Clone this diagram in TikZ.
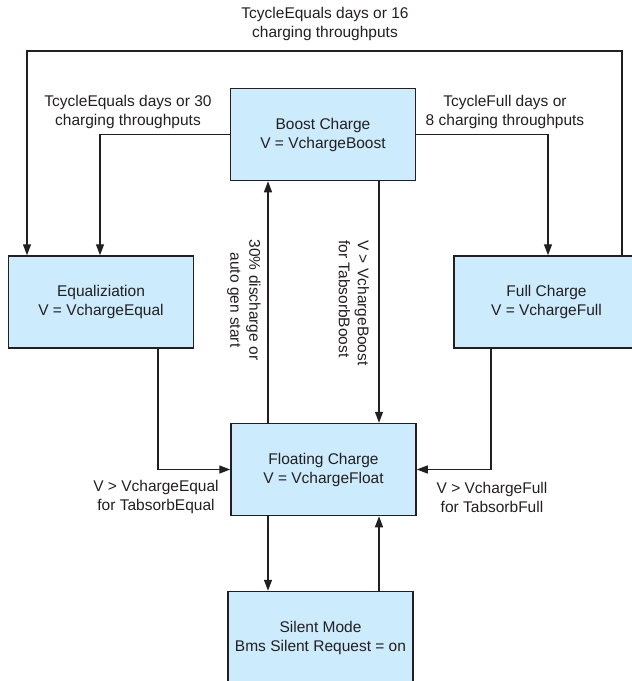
\documentclass[tikz,border=0pt]{standalone}
\usepackage{fontspec}
\setmainfont{Liberation Sans}
\usetikzlibrary{arrows.meta,calc}
\definecolor{boxfill}{RGB}{204,235,252}
\definecolor{ink}{RGB}{35,31,32}
\begin{document}
\begin{tikzpicture}[x=1pt,y=-1pt,
  state/.style={draw=ink,fill=boxfill,line width=1.5pt,minimum width=185pt,minimum height=92pt,inner sep=0pt,align=center,font=\fontsize{15.5}{19}\selectfont,text=ink},
  conn/.style={draw=ink,line width=1.3pt},
  arr/.style={conn,-{Triangle[length=11pt,width=8pt]}},
  lbl/.style={align=center,font=\fontsize{15.5}{19}\selectfont,text=ink,inner sep=0pt}]
\useasboundingbox (0,0) rectangle (632,681);

\node[state] (boost)  at (323,134.5)   {Boost Charge\\V = VchargeBoost};
\node[state] (equal)  at (101,302)     {Equaliziation\\V = VchargeEqual};
\node[state] (full)   at (546.5,302)   {Full Charge\\V = VchargeFull};
\node[state] (float)  at (323.5,469.5) {Floating Charge\\V = VchargeFloat};
\node[state] (silent) at (320.5,637.5) {Silent Mode\\Bms Silent Request = on};

\coordinate (tl) at (27,51);
\coordinate (tr) at (622,51);
\coordinate (xEq) at (100,0);
\coordinate (xFu) at (548,0);
\coordinate (xL) at (268,0);
\coordinate (xR) at (379,0);
\coordinate (eqx) at (158,0);
\coordinate (fux) at (491,0);

\draw[arr] (boost.west) -| (xEq |- equal.north);
\draw[arr] (boost.east) -| (xFu |- full.north);
\draw[arr] (tr |- full.north) -- (tr) -- (tl) -- (tl |- equal.north);
\draw[arr] (xR |- boost.south) -- (xR |- float.north);
\draw[arr] (xL |- float.north) -- (xL |- boost.south);
\draw[arr] (eqx |- equal.south) |- (float.west);
\draw[arr] (fux |- full.south) |- (float.east);
\draw[arr] (xL |- float.south) -- (xL |- silent.north);
\draw[arr] (xR |- silent.north) -- (xR |- float.south);

\node[lbl] (lTop)   at (325,24)  {TcycleEquals days or 16\\charging throughputs};
\node[lbl] (lLeft)  at (128,112) {TcycleEquals days or 30\\charging throughputs};
\node[lbl] (lRight) at (505,112) {TcycleFull days or\\8 charging throughputs};
\node[lbl,rotate=-90] (lDis) at (244,300) {30\% discharge or\\auto gen start};
\node[lbl,rotate=-90,align=left] (lBoost) at (354,303) {V > VchargeBoost\\for TabsorbBoost};
\node[lbl] (lEq) at (156,497) {V > VchargeEqual\\for TabsorbEqual};
\node[lbl] (lFu) at (492,497) {V > VchargeFull\\for TabsorbFull};
\end{tikzpicture}
\end{document}
